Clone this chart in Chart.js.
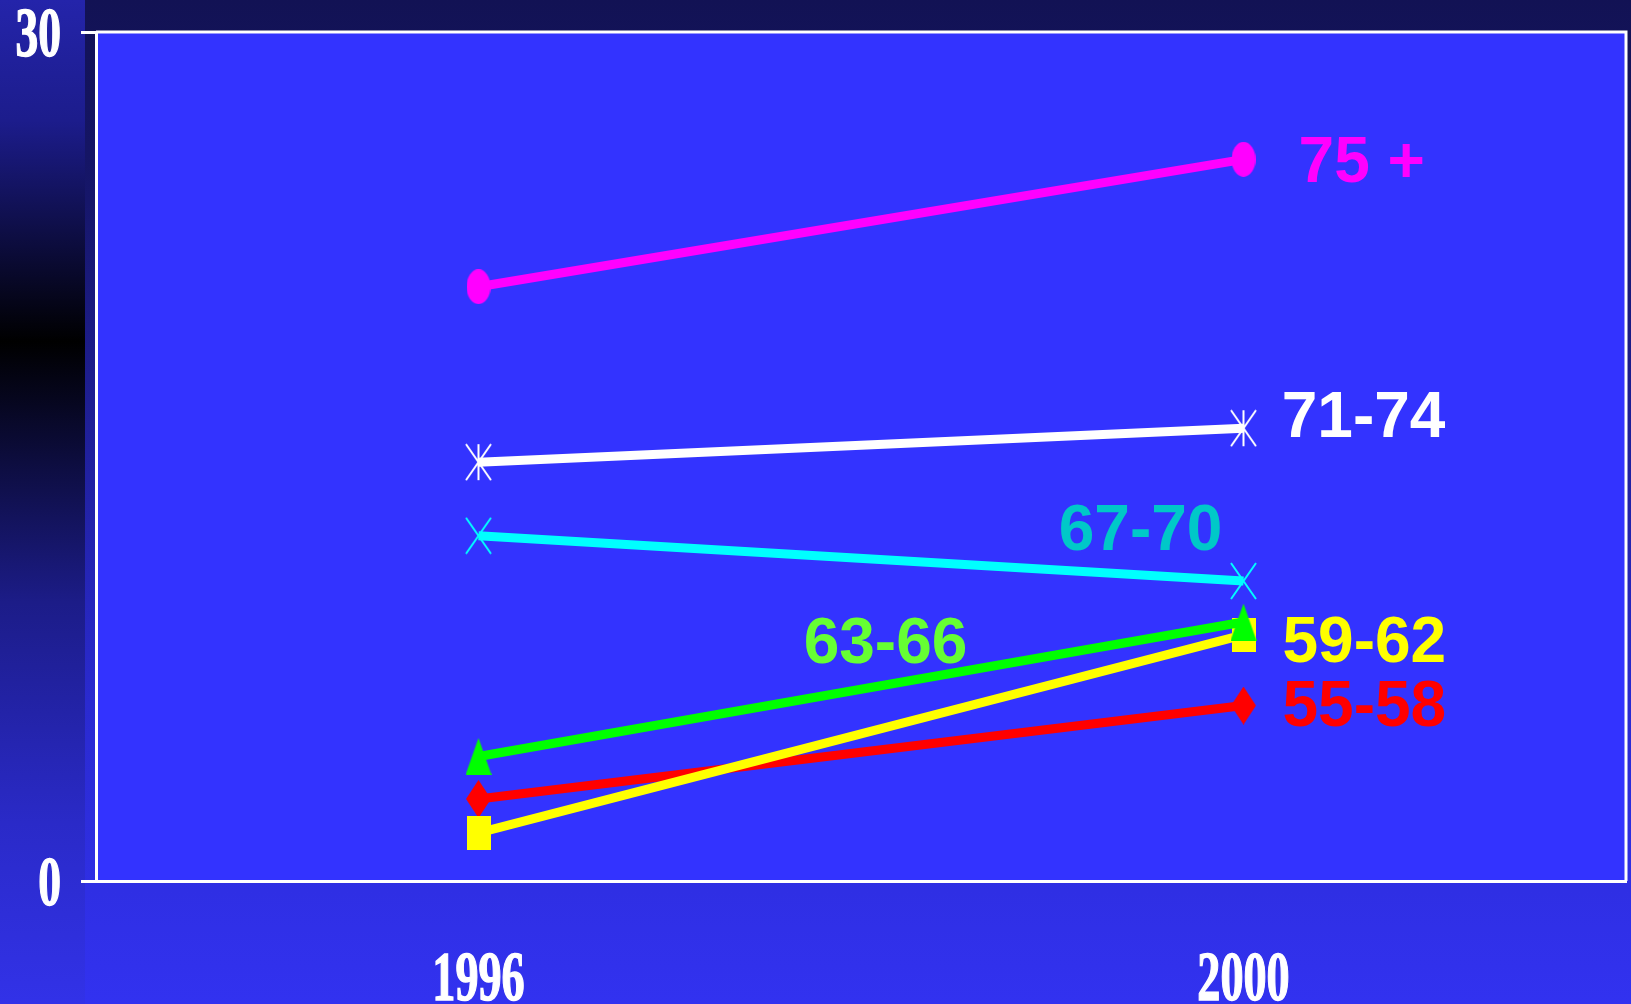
<!DOCTYPE html>
<html>
<head>
<meta charset="utf-8">
<title>Age groups 1996 - 2000</title>
<script src="https://cdn.jsdelivr.net/npm/chart.js@4.4.0/dist/chart.umd.min.js"></script>
<style>
  html, body { margin: 0; padding: 0; background: #131358; overflow: hidden; }
  canvas { display: block; }
</style>
</head>
<body>
<canvas id="ageChart" width="1631" height="1004"></canvas>
<script>
// values
const years = ["1996", "2000"];
const yTickValues = [0, 30];
const yTickLabels = ["0", "30"];

const age75plus = [21.0, 25.5];
const age71to74 = [14.8, 16.0];
const age67to70 = [12.2, 10.6];
const age63to66 = [4.4, 9.15];
const age59to62 = [1.7, 8.7];
const age55to58 = [2.9, 6.2];

// series names drawn next to the lines (x = category position, y = value of the baseline)
const seriesNotes = [
  { text: "75 +", color: "#ff00ff", x: 1.072, y: 24.7, align: "left" },
  { text: "71-74", color: "#ffffff", x: 1.05, y: 15.69, align: "left" },
  { text: "67-70", color: "#00c8c8", x: 0.9725, y: 11.7, align: "right" },
  { text: "63-66", color: "#66ff33", x: 0.425, y: 7.7, align: "left" },
  { text: "59-62", color: "#ffff00", x: 1.051, y: 7.74, align: "left" },
  { text: "55-58", color: "#ff0000", x: 1.051, y: 5.48, align: "left" },
];

// the original slide is stretched vertically, so markers are taller than wide
function makeMarker(w, h, draw) {
  const c = document.createElement("canvas");
  c.width = w;
  c.height = h;
  draw(c.getContext("2d"), w, h);
  return c;
}

const ellipseMark = makeMarker(24, 35, (g, w, h) => {
  g.fillStyle = "#ff00ff";
  g.beginPath();
  g.ellipse(w / 2, h / 2, w / 2, h / 2, 0, 0, Math.PI * 2);
  g.fill();
});
const squareMark = makeMarker(24, 34, (g, w, h) => {
  g.fillStyle = "#ffff00";
  g.fillRect(0, 0, w, h);
});
const triangleMark = makeMarker(26, 37, (g, w, h) => {
  g.fillStyle = "#00ff00";
  g.beginPath();
  g.moveTo(w / 2, 0);
  g.lineTo(w, h);
  g.lineTo(0, h);
  g.closePath();
  g.fill();
});
const diamondMark = makeMarker(25, 38, (g, w, h) => {
  g.fillStyle = "#ff0000";
  g.beginPath();
  g.moveTo(w / 2, 0);
  g.lineTo(w, h / 2);
  g.lineTo(w / 2, h);
  g.lineTo(0, h / 2);
  g.closePath();
  g.fill();
});
const starMark = makeMarker(27, 38, (g, w, h) => {
  g.strokeStyle = "#ffffff";
  g.lineWidth = 2;
  g.beginPath();
  g.moveTo(w / 2, 1);
  g.lineTo(w / 2, h - 1);
  g.moveTo(1, 1);
  g.lineTo(w - 1, h - 1);
  g.moveTo(w - 1, 1);
  g.lineTo(1, h - 1);
  g.stroke();
});
const crossMark = makeMarker(27, 38, (g, w, h) => {
  g.strokeStyle = "#00ffff";
  g.lineWidth = 2;
  g.beginPath();
  g.moveTo(1, 1);
  g.lineTo(w - 1, h - 1);
  g.moveTo(w - 1, 1);
  g.lineTo(1, h - 1);
  g.stroke();
});

function series(data, color, marker) {
  return {
    data: data,
    borderColor: color,
    backgroundColor: color,
    borderWidth: 9,
    tension: 0,
    pointStyle: marker,
    pointRadius: 12,
  };
}

// slide background + blue plot area
const slideBackground = {
  id: "slideBackground",
  beforeDraw(chart) {
    const { ctx, width, height, chartArea } = chart;
    ctx.save();
    const right = ctx.createLinearGradient(0, 0, 0, height);
    right.addColorStop(0, "#121254");
    right.addColorStop(0.2, "#16166a");
    right.addColorStop(0.7, "#2a2ad0");
    right.addColorStop(1, "#3232f0");
    ctx.fillStyle = right;
    ctx.fillRect(0, 0, width, height);

    const left = ctx.createLinearGradient(0, 0, 0, height);
    left.addColorStop(0, "#2424aa");
    left.addColorStop(0.12, "#1c1c8c");
    left.addColorStop(0.34, "#000000");
    left.addColorStop(0.6, "#1c1c88");
    left.addColorStop(0.82, "#2a2ac8");
    left.addColorStop(1, "#3232e8");
    ctx.fillStyle = left;
    ctx.fillRect(0, 0, 85, height);

    ctx.fillStyle = "#3333ff";
    ctx.fillRect(chartArea.left, chartArea.top,
      chartArea.right - chartArea.left, chartArea.bottom - chartArea.top);
    ctx.restore();
  },
  afterDraw(chart) {
    const { ctx, chartArea } = chart;
    const xs = chart.scales.x;
    const ys = chart.scales.y;
    ctx.save();
    // top and right edges of the frame
    ctx.strokeStyle = "#ffffff";
    ctx.lineWidth = 3;
    ctx.beginPath();
    ctx.moveTo(chartArea.left, chartArea.top);
    ctx.lineTo(chartArea.right, chartArea.top);
    ctx.lineTo(chartArea.right, chartArea.bottom);
    ctx.stroke();

    // axis labels: narrow bold serif, stroked a little to look heavier
    ctx.fillStyle = "#ffffff";
    ctx.strokeStyle = "#ffffff";
    ctx.lineWidth = 1.5;
    ctx.font = "bold 70px 'Liberation Serif', 'Times New Roman', serif";
    ctx.textBaseline = "alphabetic";
    ctx.textAlign = "right";
    yTickValues.forEach((v, i) => {
      ctx.save();
      ctx.translate(chartArea.left - 35, ys.getPixelForValue(v) + 24);
      ctx.scale(0.65, 1);
      ctx.fillText(yTickLabels[i], 0, 0);
      ctx.strokeText(yTickLabels[i], 0, 0);
      ctx.restore();
    });
    ctx.textAlign = "center";
    years.forEach((label, i) => {
      ctx.save();
      ctx.translate(xs.getPixelForValue(i), chartArea.bottom + 119);
      ctx.scale(0.66, 1);
      ctx.fillText(label, 0, 0);
      ctx.strokeText(label, 0, 0);
      ctx.restore();
    });

    // series names
    ctx.font = "bold 64px 'Liberation Sans', Arial, sans-serif";
    seriesNotes.forEach((n) => {
      ctx.fillStyle = n.color;
      ctx.textAlign = n.align;
      ctx.fillText(n.text, xs.getPixelForValue(n.x), ys.getPixelForValue(n.y));
    });
    ctx.restore();
  },
};

const ctx = document.getElementById("ageChart").getContext("2d");
const ageChart = new Chart(ctx, {
  type: "line",
  data: {
    labels: years,
    datasets: [
      series(age75plus, "#ff00ff", ellipseMark),
      series(age71to74, "#ffffff", starMark),
      series(age67to70, "#00ffff", crossMark),
      series(age63to66, "#00ff00", triangleMark),
      series(age59to62, "#ffff00", squareMark),
      series(age55to58, "#ff0000", diamondMark),
    ],
  },
  options: {
    responsive: false,
    animation: false,
    events: [],
    layout: {
      autoPadding: false,
      padding: { left: 81, top: 32, right: 5, bottom: 123 },
    },
    plugins: {
      legend: { display: false },
      tooltip: { enabled: false },
    },
    scales: {
      x: {
        type: "category",
        offset: true,
        grid: { display: false, drawTicks: false },
        border: { display: true, color: "#ffffff", width: 3 },
        ticks: { display: false },
      },
      y: {
        min: 0,
        max: 30,
        ticks: { display: false, stepSize: 30 },
        grid: {
          drawOnChartArea: false,
          drawTicks: true,
          tickLength: 15,
          color: "#ffffff",
          lineWidth: 3,
        },
        border: { display: true, color: "#ffffff", width: 3 },
      },
    },
  },
  plugins: [slideBackground],
});
</script>
</body>
</html>
